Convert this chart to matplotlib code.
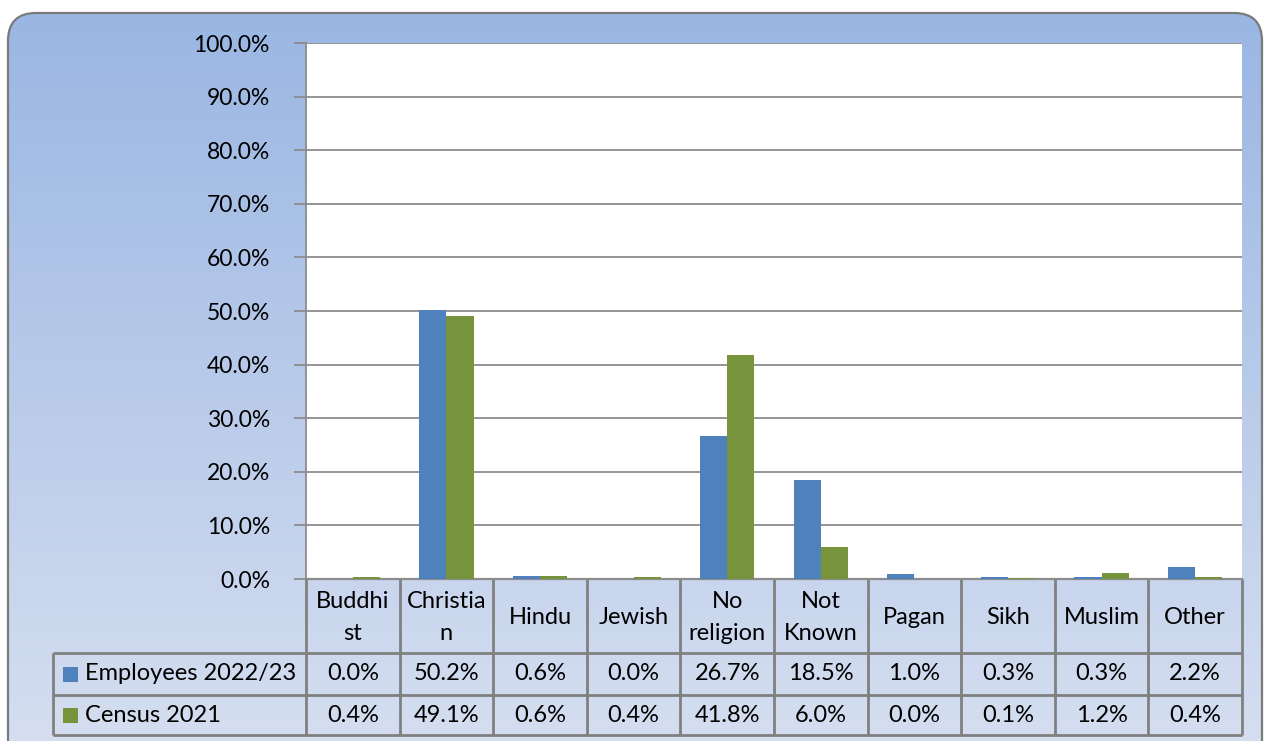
import numpy as np
import matplotlib
matplotlib.use('Agg')
import matplotlib.pyplot as plt
from matplotlib.patches import FancyBboxPatch, Rectangle
from matplotlib import transforms

# data
categories = ['Buddhi\nst', 'Christia\nn', 'Hindu', 'Jewish', 'No\nreligion',
              'Not\nKnown', 'Pagan', 'Sikh', 'Muslim', 'Other']
employees = [0.0, 50.2, 0.6, 0.0, 26.7, 18.5, 1.0, 0.3, 0.3, 2.2]
census = [0.4, 49.1, 0.6, 0.4, 41.8, 6.0, 0.0, 0.1, 1.2, 0.4]
series_names = ['Employees 2022/23', 'Census 2021']
yticks = np.arange(0, 101, 10)

BLUE = '#4F81BD'
GREEN = '#77933C'
GRID = '#8c8c8c'
W, H = 1265, 741
plt.rcParams['font.family'] = ['Lato', 'DejaVu Sans']
FS = 16.5   # axis labels
TFS = 17    # table text

fig = plt.figure(figsize=(W / 100, H / 100), dpi=100)
fig.patch.set_facecolor('white')

# background with gradient (pixel coordinates)
bg = fig.add_axes([0, 0, 1, 1])
bg.set_xlim(0, W)
bg.set_ylim(H, 0)
bg.axis('off')
frame = FancyBboxPatch((8, 13), 1254, 800, boxstyle='round,pad=0,rounding_size=28',
                       facecolor='none', edgecolor='#7a7a7a', lw=1.6, zorder=3)
bg.add_patch(frame)
grad = np.linspace(0, 1, 256)[:, None]
top = np.array([0.604, 0.714, 0.890])
bot = np.array([0.835, 0.871, 0.941])
img = top[None, None, :] * (1 - grad[:, :, None]) + bot[None, None, :] * grad[:, :, None]
im = bg.imshow(img, extent=[8, 1262, 741, 13], aspect='auto', zorder=1)
im.set_clip_path(frame)

# main plot
x0, x1, y0, y1 = 306, 1242, 43, 579
ax = fig.add_axes([x0 / W, 1 - y1 / H, (x1 - x0) / W, (y1 - y0) / H])
ax.set_facecolor('white')
x = np.arange(len(categories))
bw = 0.29
ax.bar(x - bw / 2, employees, bw, color=BLUE, zorder=3)
ax.bar(x + bw / 2, census, bw, color=GREEN, zorder=3)
ax.set_xlim(-0.5, len(categories) - 0.5)
ax.set_ylim(0, 100)
ax.set_yticks(yticks)
ax.set_yticklabels([f'{v:.1f}%' for v in yticks], fontsize=FS)
ax.yaxis.grid(True, color=GRID, lw=1.3, zorder=0)
ax.set_xticks([])
ax.tick_params(axis='y', length=9, width=1.3, color=GRID, pad=17)
for s in ['top', 'right']:
    ax.spines[s].set_visible(False)
ax.spines['left'].set_color(GRID)
ax.spines['left'].set_linewidth(1.3)
ax.spines['bottom'].set_color(GRID)
ax.spines['bottom'].set_linewidth(1.6)

# data table under the plot: x in category units, y in pixels
tr = transforms.blended_transform_factory(ax.transData, bg.transData)
lc = dict(color='#808080', lw=2, zorder=4, solid_capstyle='butt')
r0, r1, r2, r3 = 579, 653, 695, 735
for i in range(len(categories) + 1):
    bg.plot([i - 0.5, i - 0.5], [r0, r3], transform=tr, **lc)
for yy in (r1, r2, r3):
    bg.plot([53, 1242], [yy, yy], **lc)
bg.plot([53, 53], [r1, r3], **lc)

for i, c in enumerate(categories):
    lines = c.split('\n')
    if len(lines) == 2:
        bg.text(i, 601, lines[0], transform=tr, ha='center', va='center', fontsize=TFS, zorder=5)
        bg.text(i, 634, lines[1], transform=tr, ha='center', va='center', fontsize=TFS, zorder=5)
    else:
        bg.text(i, 617, c, transform=tr, ha='center', va='center', fontsize=TFS, zorder=5)

for vals, yc, name, col in [(employees, (r1 + r2) / 2, series_names[0], BLUE),
                            (census, (r2 + r3) / 2, series_names[1], GREEN)]:
    bg.add_patch(Rectangle((63, yc - 7.5), 15, 15, facecolor=col, edgecolor='none', zorder=5))
    bg.text(85, yc, name, ha='left', va='center', fontsize=TFS, zorder=5)
    for i, v in enumerate(vals):
        bg.text(i, yc, f'{v:.1f}%', transform=tr, ha='center', va='center', fontsize=TFS, zorder=5)

fig.savefig('out.png', dpi=100)
